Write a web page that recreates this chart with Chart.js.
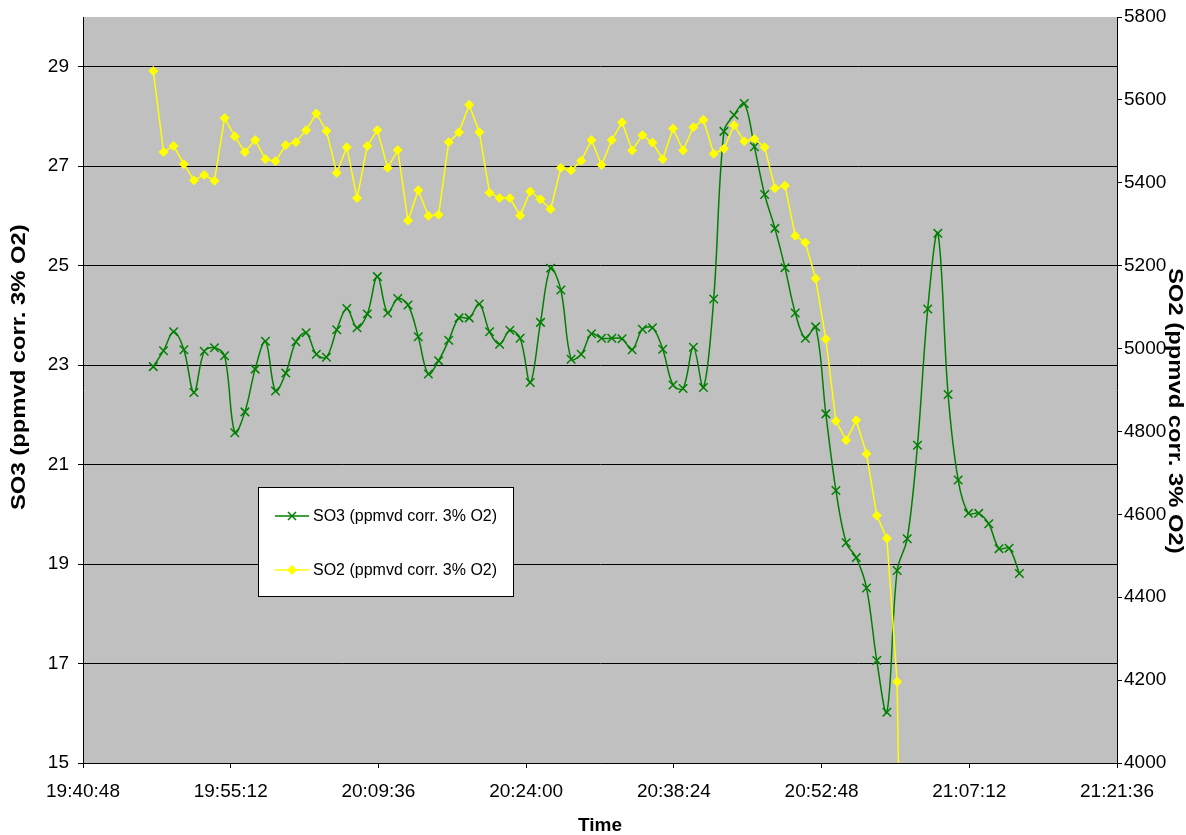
<!DOCTYPE html>
<html>
<head>
<meta charset="utf-8">
<script src="https://cdn.jsdelivr.net/npm/chart.js@4.4.1/dist/chart.umd.min.js"></script>
<style>
    html, body { margin: 0; padding: 0; background: #ffffff; }
    #chartBox { width: 1186px; height: 835px; }
</style>
</head>
<body>
<div id="chartBox"><canvas id="so3Chart" width="1186" height="835"></canvas></div>
<script>
const sampleTimes = [
    "19:47:39", "19:48:39", "19:49:38", "19:50:38", "19:51:37", "19:52:37", "19:53:37", "19:54:36", "19:55:36", "19:56:35",
    "19:57:35", "19:58:35", "19:59:34", "20:00:34", "20:01:33", "20:02:33", "20:03:33", "20:04:32", "20:05:32", "20:06:31",
    "20:07:31", "20:08:31", "20:09:30", "20:10:30", "20:11:29", "20:12:29", "20:13:29", "20:14:28", "20:15:28", "20:16:27",
    "20:17:27", "20:18:27", "20:19:26", "20:20:26", "20:21:25", "20:22:25", "20:23:25", "20:24:24", "20:25:24", "20:26:23",
    "20:27:23", "20:28:23", "20:29:22", "20:30:22", "20:31:21", "20:32:21", "20:33:21", "20:34:20", "20:35:20", "20:36:19",
    "20:37:19", "20:38:19", "20:39:18", "20:40:18", "20:41:17", "20:42:17", "20:43:17", "20:44:16", "20:45:16", "20:46:15",
    "20:47:15", "20:48:15", "20:49:14", "20:50:14", "20:51:13", "20:52:13", "20:53:13", "20:54:12", "20:55:12", "20:56:11",
    "20:57:11", "20:58:11", "20:59:10", "21:00:10", "21:01:09", "21:02:09", "21:03:09", "21:04:08", "21:05:08", "21:06:07",
    "21:07:07", "21:08:07", "21:09:06", "21:10:06", "21:11:05", "21:12:05"
];

const so3Values = [
    22.97, 23.29, 23.67, 23.31, 22.45, 23.28, 23.35, 23.19, 21.64, 22.06,
    22.92, 23.48, 22.48, 22.84, 23.47, 23.65, 23.22, 23.16, 23.71, 24.14,
    23.75, 24.03, 24.78, 24.05, 24.34, 24.21, 23.57, 22.82, 23.09, 23.50,
    23.95, 23.95, 24.23, 23.67, 23.42, 23.70, 23.54, 22.65, 23.86, 24.95,
    24.51, 23.12, 23.22, 23.63, 23.54, 23.54, 23.53, 23.31, 23.72, 23.75,
    23.32, 22.60, 22.53, 23.36, 22.55, 24.33, 27.70, 28.03, 28.26, 27.39,
    26.43, 25.75, 24.96, 24.05, 23.54, 23.77, 22.02, 20.48, 19.43, 19.13,
    18.52, 17.06, 16.02, 18.87, 19.51, 21.39, 24.13, 25.65, 22.41, 20.69,
    20.02, 20.02, 19.81, 19.31, 19.32, 18.81
];

// SO2 drops off the bottom of the axis after 21:00, nothing visible past that
const so2Values = [
    5670, 5474, 5489, 5445, 5406, 5419, 5405, 5556, 5512, 5474,
    5503, 5457, 5452, 5491, 5498, 5527, 5567, 5525, 5424, 5486,
    5363, 5489, 5527, 5436, 5479, 5309, 5382, 5320, 5323, 5498,
    5522, 5588, 5522, 5376, 5363, 5363, 5321, 5379, 5360, 5336,
    5436, 5430, 5453, 5503, 5443, 5503, 5546, 5478, 5515, 5497,
    5457, 5531, 5478, 5534, 5552, 5470, 5482, 5539, 5500, 5506,
    5486, 5387, 5393, 5272, 5256, 5169, 5023, 4825, 4779, 4827,
    4746, 4597, 4542, 4196, 2600, null, null, null, null, null,
    null, null, null, null, null, null
];

const timeTickLabels = ["19:40:48", "19:55:12", "20:09:36", "20:24:00", "20:38:24", "20:52:48", "21:07:12", "21:21:36"];
const so3TickValues = [15, 17, 19, 21, 23, 25, 27, 29];
const so2TickValues = [4000, 4200, 4400, 4600, 4800, 5000, 5200, 5400, 5600, 5800];

const so3Label = "SO3 (ppmvd corr. 3% O2)";
const so2Label = "SO2 (ppmvd corr. 3% O2)";

function clockToSeconds(text) {
    let parts = text.split(":").map(Number);
    return parts[0] * 3600 + parts[1] * 60 + parts[2];
}

function secondsToClock(seconds) {
    let s = Math.round(seconds);
    let h = Math.floor(s / 3600);
    let m = Math.floor((s % 3600) / 60);
    let sec = s % 60;
    return `${h}:${String(m).padStart(2, "0")}:${String(sec).padStart(2, "0")}`;
}

const fontFamily = "'Liberation Sans', Arial, sans-serif";

const plotBackground = {
    id: 'plotBackground',
    beforeDraw(chart) {
        let area = chart.chartArea;
        let ctx = chart.ctx;
        ctx.save();
        ctx.fillStyle = '#C0C0C0';
        ctx.fillRect(area.left, area.top, area.right - area.left, area.bottom - area.top);
        ctx.restore();
    }
};

// the spreadsheet draws its rotated axis titles stretched along the text,
// so they are drawn here instead of by the scale
const verticalTitles = {
    id: 'verticalTitles',
    afterDraw(chart) {
        let ctx = chart.ctx;
        let items = [
            { text: chart.scales.ySO3.options.title.text, x: 19, y: 510, angle: -Math.PI / 2 },
            { text: chart.scales.ySO2.options.title.text, x: 1175, y: 268, angle: Math.PI / 2 }
        ];
        items.forEach(item => {
            ctx.save();
            ctx.translate(item.x, item.y);
            ctx.rotate(item.angle);
            ctx.scale(1.19, 1);
            ctx.font = `bold 20px ${fontFamily}`;
            ctx.fillStyle = '#000000';
            ctx.textAlign = 'left';
            ctx.textBaseline = 'middle';
            ctx.fillText(item.text, 0, 0);
            ctx.restore();
        });
    }
};

function drawMarker(ctx, style, x, y, color) {
    ctx.save();
    ctx.strokeStyle = color;
    ctx.fillStyle = color;
    ctx.beginPath();
    if (style === 'crossRot') {
        ctx.lineWidth = 1.5;
        ctx.moveTo(x - 4, y - 4); ctx.lineTo(x + 4, y + 4);
        ctx.moveTo(x + 4, y - 4); ctx.lineTo(x - 4, y + 4);
        ctx.stroke();
    } else {
        ctx.moveTo(x, y - 5); ctx.lineTo(x + 5, y); ctx.lineTo(x, y + 5); ctx.lineTo(x - 5, y);
        ctx.closePath();
        ctx.fill();
    }
    ctx.restore();
}

// legend box sitting inside the plot, like the spreadsheet original
const boxLegend = {
    id: 'boxLegend',
    afterDraw(chart) {
        let ctx = chart.ctx;
        let box = { left: 258.5, top: 487.5, right: 513.5, bottom: 596.5 };
        ctx.save();
        ctx.fillStyle = '#ffffff';
        ctx.fillRect(box.left, box.top, box.right - box.left, box.bottom - box.top);
        ctx.strokeStyle = '#000000';
        ctx.lineWidth = 1;
        ctx.strokeRect(box.left, box.top, box.right - box.left, box.bottom - box.top);

        let rows = [
            { ds: chart.data.datasets[0], y: 516 },
            { ds: chart.data.datasets[1], y: 570 }
        ];
        ctx.font = `16px ${fontFamily}`;
        ctx.textBaseline = 'middle';
        ctx.textAlign = 'left';
        rows.forEach(row => {
            ctx.strokeStyle = row.ds.borderColor;
            ctx.lineWidth = 1.5;
            ctx.beginPath();
            ctx.moveTo(275, row.y);
            ctx.lineTo(309, row.y);
            ctx.stroke();
            drawMarker(ctx, row.ds.pointStyle, 292, row.y, row.ds.borderColor);
            ctx.fillStyle = '#000000';
            ctx.fillText(row.ds.label, 313, row.y + 1);
        });
        ctx.restore();
    }
};

// fixed axis boxes so the plot sits where the original one does
function fitVerticalAxis(width) {
    return (scale) => {
        scale.width = width;
        scale.paddingTop = 0;
        scale.paddingBottom = 0;
    };
}

const so3Points = sampleTimes.map((t, i) => ({ x: clockToSeconds(t), y: so3Values[i] }));
const so2Points = sampleTimes.map((t, i) => ({ x: clockToSeconds(t), y: so2Values[i] }));

const ctx = document.getElementById("so3Chart").getContext('2d');
window.chart = new Chart(ctx, {
    type: 'line',
    data: {
        datasets: [{
            label: so3Label,
            data: so3Points,
            yAxisID: 'ySO3',
            borderColor: '#008000',
            backgroundColor: '#008000',
            borderWidth: 1.5,
            pointStyle: 'crossRot',
            pointRadius: 6,
            pointBorderWidth: 1.5,
            pointBorderColor: '#008000',
            tension: 0.35,
            fill: false,
            order: 1
        }, {
            label: so2Label,
            data: so2Points,
            yAxisID: 'ySO2',
            borderColor: '#FFFF00',
            backgroundColor: '#FFFF00',
            borderWidth: 1.5,
            pointStyle: 'rectRot',
            pointRadius: 4.5,
            pointBorderWidth: 1,
            pointBorderColor: '#FFFF00',
            tension: 0,
            spanGaps: false,
            fill: false,
            order: 0
        }]
    },
    options: {
        responsive: false,
        animation: false,
        layout: { padding: { top: 17, left: 0, right: 0, bottom: 0 } },
        scales: {
            x: {
                type: 'linear',
                position: 'bottom',
                min: clockToSeconds(timeTickLabels[0]),
                max: clockToSeconds(timeTickLabels[timeTickLabels.length - 1]),
                afterBuildTicks: (scale) => {
                    scale.ticks = timeTickLabels.map(t => ({ value: clockToSeconds(t) }));
                },
                afterFit: (scale) => { scale.height = 72; },
                ticks: {
                    autoSkip: false,
                    maxRotation: 0,
                    padding: 12,
                    color: '#000000',
                    font: { family: fontFamily, size: 19 },
                    callback: (value) => secondsToClock(value)
                },
                grid: { drawOnChartArea: false, color: '#000000', tickLength: 5 },
                border: { display: true, color: '#000000', width: 1 },
                title: {
                    display: true,
                    text: 'Time',
                    color: '#000000',
                    padding: { top: 0, bottom: 0 },
                    font: { family: fontFamily, size: 19, weight: 'bold', lineHeight: 1 }
                }
            },
            ySO3: {
                type: 'linear',
                position: 'left',
                min: 15,
                max: 30,
                afterBuildTicks: (scale) => {
                    scale.ticks = so3TickValues.map(v => ({ value: v }));
                },
                afterFit: fitVerticalAxis(83),
                ticks: {
                    padding: 9,
                    color: '#000000',
                    font: { family: fontFamily, size: 19 },
                    callback: (value) => String(value)
                },
                grid: { drawOnChartArea: true, color: '#000000', tickLength: 5 },
                border: { display: true, color: '#000000', width: 1 },
                title: { display: false, text: so3Label }
            },
            ySO2: {
                type: 'linear',
                position: 'right',
                min: 4000,
                max: 5800,
                afterBuildTicks: (scale) => {
                    scale.ticks = so2TickValues.map(v => ({ value: v }));
                },
                afterFit: fitVerticalAxis(69),
                ticks: {
                    padding: 2,
                    color: '#000000',
                    font: { family: fontFamily, size: 19 },
                    callback: (value) => String(value)
                },
                grid: { drawOnChartArea: false, color: '#000000', tickLength: 5 },
                border: { display: true, color: '#000000', width: 1 },
                title: { display: false, text: so2Label }
            }
        },
        plugins: {
            legend: { display: false },
            tooltip: { enabled: false }
        }
    },
    plugins: [plotBackground, verticalTitles, boxLegend]
});
</script>
</body>
</html>
